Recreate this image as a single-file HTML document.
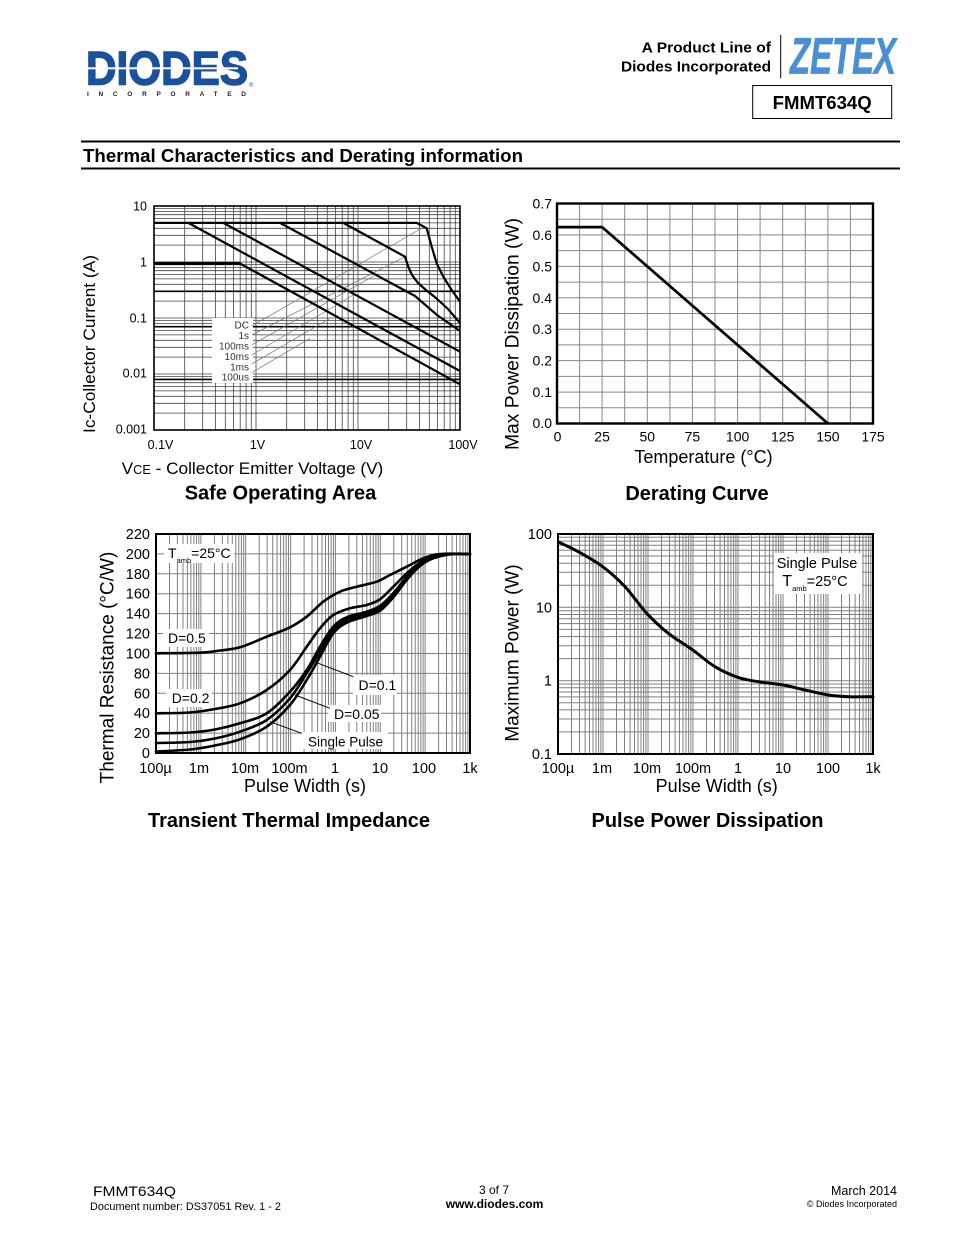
<!DOCTYPE html>
<html><head><meta charset="utf-8"><style>
html,body{margin:0;padding:0;background:#fff;}
svg{display:block;}
text{font-family:"Liberation Sans",Arial,sans-serif;fill:#000;}
</style></head><body>
<svg id="pg" width="954" height="1235" viewBox="0 0 954 1235" xmlns="http://www.w3.org/2000/svg">
<rect width="954" height="1235" fill="#fff"/>

<!-- DIODES logo -->
<text x="86" y="84.5" font-size="47" font-weight="bold" style="fill:#1a519d" stroke="#1a519d" stroke-width="1.5" textLength="162" lengthAdjust="spacingAndGlyphs">DIODES</text>
<rect x="86" y="67.3" width="152" height="2" fill="#fff"/>
<text x="87" y="96" font-size="6.5" font-weight="bold" style="fill:#222" textLength="159" lengthAdjust="spacing">INCORPORATED</text>
<text x="249" y="87" font-size="6" style="fill:#1a519d">®</text>

<!-- ZETEX header -->
<text x="641.7" y="52.3" font-size="15" font-weight="bold" textLength="129.3" lengthAdjust="spacingAndGlyphs">A Product Line of</text>
<text x="621" y="71.7" font-size="15" font-weight="bold" textLength="150" lengthAdjust="spacingAndGlyphs">Diodes Incorporated</text>
<line x1="780.7" y1="35" x2="780.7" y2="78.3" stroke="#000" stroke-width="1"/>
<text x="790" y="73.3" font-size="51" font-weight="bold" font-style="italic" style="fill:#4a8fd6" stroke="#4a8fd6" stroke-width="0.8" textLength="106" lengthAdjust="spacingAndGlyphs">ZETEX</text>
<rect x="752.7" y="85.5" width="139" height="33" fill="none" stroke="#000" stroke-width="1"/>
<text x="772.7" y="109" font-size="18" font-weight="bold" textLength="99" lengthAdjust="spacingAndGlyphs">FMMT634Q</text>

<!-- Section title -->
<rect x="81" y="140.5" width="819" height="2" fill="#000"/>
<text x="83" y="162" font-size="18" font-weight="bold" textLength="440" lengthAdjust="spacingAndGlyphs">Thermal Characteristics and Derating information</text>
<rect x="81" y="167.5" width="819" height="2" fill="#000"/>

<!-- ================= SOA ================= -->
<g stroke="#444" stroke-width="0.8" fill="none">
<path d="M184.7 206V430M202.7 206V430M215.4 206V430M225.3 206V430M233.4 206V430M240.2 206V430M246.1 206V430M251.3 206V430M256 206V430M286.7 206V430M304.7 206V430M317.4 206V430M327.3 206V430M335.4 206V430M342.2 206V430M348.1 206V430M353.3 206V430M358 206V430M388.7 206V430M406.7 206V430M419.4 206V430M429.3 206V430M437.4 206V430M444.2 206V430M450.1 206V430M455.3 206V430"/>
<path d="M154 208.6H460M154 211.4H460M154 214.7H460M154 218.4H460M154 222.9H460M154 228.3H460M154 235.3H460M154 245.1H460M154 262H460M154 264.6H460M154 267.4H460M154 270.7H460M154 274.4H460M154 278.9H460M154 284.3H460M154 301.1H460M154 318H460M154 320.6H460M154 323.4H460M154 330.4H460M154 334.9H460M154 340.3H460M154 347.3H460M154 357.1H460M154 374H460M154 376.6H460M154 382.7H460M154 386.4H460M154 390.9H460M154 396.3H460M154 403.3H460M154 413.1H460"/>
</g>
<g stroke="#000" stroke-width="1.6" fill="none">
<path d="M154 291.3H460M154 326.7H460M154 379.4H460"/>
</g>
<rect x="212" y="318" width="41" height="65" fill="#fff"/>
<g stroke="#777" stroke-width="0.7" fill="none">
<path d="M251.7 326L423.3 227.3M251.7 335L405 256.7M251.7 345L378.3 273.3M251.7 355L353.3 295M251.7 364L330 318.3M251.7 372.7L310 338.3"/>
</g>
<g font-size="10" text-anchor="end">
<text x="249" y="328.5" style="fill:#333">DC</text>
<text x="249" y="338.8" style="fill:#333">1s</text>
<text x="249" y="349.3" style="fill:#333">100ms</text>
<text x="249" y="359.8" style="fill:#333">10ms</text>
<text x="249" y="370.3" style="fill:#333">1ms</text>
<text x="249" y="380.5" style="fill:#333">100us</text>
</g>
<g stroke="#000" stroke-width="2.2" fill="none" stroke-linejoin="round">
<path d="M154 222.9H416.7L426.7 228.3L431.7 246.7L436.7 263.3L443.3 276.7L451.7 290L460 301.7"/>
<path d="M343.3 222.9L405 256.7L408 266L412 275L418 283L426 290L436 298L448 309L460 323"/>
<path d="M280 222.9L415 296L437 315L460 331"/>
<path d="M223.3 222.9L460 351.7"/>
<path d="M188.3 222.9L460 371"/>
<path d="M240 263.5L460 384.3"/>
</g>
<path d="M154 263.5H240" stroke="#000" stroke-width="3.2"/>
<rect x="154" y="206" width="306" height="224" fill="none" stroke="#000" stroke-width="1.6"/>
<g font-size="12.5" text-anchor="end">
<text x="147" y="210.5">10</text>
<text x="147" y="266.5">1</text>
<text x="147" y="322.5">0.1</text>
<text x="147" y="377.5">0.01</text>
<text x="147" y="433.5">0.001</text>
</g>
<g font-size="12.5" text-anchor="middle">
<text x="160.5" y="449">0.1V</text>
<text x="257.5" y="449">1V</text>
<text x="361" y="449">10V</text>
<text x="463" y="449">100V</text>
</g>
<text transform="translate(95,344) rotate(-90)" font-size="17" text-anchor="middle" textLength="178" lengthAdjust="spacingAndGlyphs">Ic-Collector Current (A)</text>
<text x="121.7" y="474" font-size="17" textLength="261.6" lengthAdjust="spacingAndGlyphs">V<tspan font-size="12.5">CE</tspan> - Collector Emitter Voltage (V)</text>
<text x="280.5" y="499.5" font-size="20" font-weight="bold" text-anchor="middle">Safe Operating Area</text>

<!-- ================= Derating ================= -->
<g stroke="#888" stroke-width="1" fill="none">
<path d="M579.6 203.5V423.5M602.1 203.5V423.5M624.7 203.5V423.5M647.3 203.5V423.5M669.9 203.5V423.5M692.4 203.5V423.5M715 203.5V423.5M737.6 203.5V423.5M760.1 203.5V423.5M782.7 203.5V423.5M805.3 203.5V423.5M827.9 203.5V423.5M850.4 203.5V423.5"/>
<path d="M557 219.2H873M557 234.9H873M557 250.6H873M557 266.4H873M557 282.1H873M557 297.8H873M557 313.5H873M557 329.2H873M557 344.9H873M557 360.6H873M557 376.4H873M557 392.1H873M557 407.8H873"/>
</g>
<path d="M557 227.1H602.1L827.9 423.5" stroke="#000" stroke-width="2.7" fill="none" stroke-linejoin="round"/>
<rect x="557" y="203.5" width="316" height="220" fill="none" stroke="#000" stroke-width="2.4"/>
<g font-size="14" text-anchor="end">
<text x="552" y="208.5">0.7</text>
<text x="552" y="239.9">0.6</text>
<text x="552" y="271.4">0.5</text>
<text x="552" y="302.8">0.4</text>
<text x="552" y="334.2">0.3</text>
<text x="552" y="365.6">0.2</text>
<text x="552" y="397.1">0.1</text>
<text x="552" y="428">0.0</text>
</g>
<g font-size="14" text-anchor="middle">
<text x="557.5" y="441.5">0</text>
<text x="602.1" y="441.5">25</text>
<text x="647.3" y="441.5">50</text>
<text x="692.4" y="441.5">75</text>
<text x="737.6" y="441.5">100</text>
<text x="782.7" y="441.5">125</text>
<text x="827.9" y="441.5">150</text>
<text x="873" y="441.5">175</text>
</g>
<text x="703.5" y="463" font-size="18" text-anchor="middle">Temperature (°C)</text>
<text transform="translate(518.5,334) rotate(-90)" font-size="19" text-anchor="middle" textLength="232" lengthAdjust="spacingAndGlyphs">Max Power Dissipation (W)</text>
<text x="697" y="500" font-size="20" font-weight="bold" text-anchor="middle">Derating Curve</text>

<!-- ================= Transient ================= -->
<g stroke="#808080" stroke-width="1" fill="none">
<path d="M169.5 534V753M177.4 534V753M183 534V753M187.4 534V753M190.9 534V753M193.9 534V753M196.5 534V753M198.8 534V753M200.9 534V753M214.4 534V753M222.3 534V753M227.9 534V753M232.3 534V753M235.8 534V753M238.8 534V753M241.4 534V753M243.7 534V753M245.7 534V753M259.2 534V753M267.1 534V753M272.7 534V753M277.1 534V753M280.6 534V753M283.6 534V753M286.2 534V753M288.5 534V753M290.6 534V753M304.1 534V753M312 534V753M317.6 534V753M322 534V753M325.5 534V753M328.5 534V753M331.1 534V753M333.4 534V753M335.4 534V753M348.9 534V753M356.8 534V753M362.4 534V753M366.8 534V753M370.3 534V753M373.3 534V753M375.9 534V753M378.2 534V753M380.3 534V753M393.8 534V753M401.7 534V753M407.3 534V753M411.7 534V753M415.2 534V753M418.2 534V753M420.8 534V753M423.1 534V753M425.1 534V753M438.6 534V753M446.5 534V753M452.1 534V753M456.5 534V753M460 534V753M463 534V753M465.6 534V753M467.9 534V753"/>
<path d="M156 553.9H470M156 573.8H470M156 593.7H470M156 613.6H470M156 633.5H470M156 653.5H470M156 673.4H470M156 693.3H470M156 713.2H470M156 733.1H470"/>
</g>
<g fill="#fff">
<rect x="164" y="544" width="70" height="19"/>
<rect x="163" y="629" width="46" height="18"/>
<rect x="166" y="689" width="46" height="18"/>
<rect x="353" y="675" width="44" height="20"/>
<rect x="328" y="705" width="53" height="17"/>
<rect x="302" y="732" width="86" height="17"/>
</g>
<g stroke="#000" stroke-width="2.6" fill="none" stroke-linejoin="round" stroke-linecap="round">
<polyline class="sm" points="156,653.3 200,652.7 220,650.5 240,647.3 266.7,636.7 290,627.3 306.7,616.7 323.3,601.7 340,591.7 356.7,586.7 376.7,581.7 390,575 406.7,566.7 423.3,558.3 440,554 470,554"/>
<polyline class="sm" points="156,713.3 190,712.5 215,709 240,703.3 266.7,690 290,670 306.7,646.7 320,628.3 333.3,615 350,608.3 366.7,605 380,599.3 393.3,586.7 406.7,573.3 420,562.7 433.3,556 446.7,554 470,554"/>
<polyline class="sm" points="156,733.3 190,732.5 215,729.5 240,723.3 266.7,713.3 290,691.7 306.7,670 320,646.7 333.3,626.7 346.7,617.3 366.7,611.7 380,606 393.3,593.3 406.7,576.7 420,564 433.3,556.7 446.7,554 470,554"/>
<polyline class="sm" points="156,743 190,742 215,738.5 240,731.7 266.7,720 290,698.3 306.7,673.3 320,651.7 333.3,630 346.7,620 366.7,614 380,608.3 393.3,595 406.7,578.3 420,565 433.3,557.3 450,554 470,554"/>
<polyline class="sm" points="156,751.5 190,749.5 215,745.5 240,739.3 266.7,726.7 290,705 306.7,680 320,656.7 333.3,633.3 346.7,622.7 366.7,616 380,610.7 393.3,597.3 406.7,580 420,566 433.3,558.3 453.3,554 470,554"/>
</g>
<g stroke="#000" stroke-width="1" fill="none">
<path d="M316.7 662.7L353.3 676.7M295 695L330 708.3M270 721.7L301.7 733.3"/>
</g>
<rect x="156" y="534" width="314" height="219" fill="none" stroke="#000" stroke-width="2"/>
<g font-size="14">
<text x="168" y="558">T<tspan font-size="7.5" dy="5">amb</tspan><tspan dy="-5">=25°C</tspan></text>
<text x="168" y="643">D=0.5</text>
<text x="171.7" y="703">D=0.2</text>
<text x="358.5" y="690">D=0.1</text>
<text x="334" y="719">D=0.05</text>
<text x="308" y="746.5" textLength="75" lengthAdjust="spacingAndGlyphs">Single Pulse</text>
</g>
<g font-size="14.5" text-anchor="end">
<text x="150" y="539">220</text>
<text x="150" y="559">200</text>
<text x="150" y="578.8">180</text>
<text x="150" y="598.7">160</text>
<text x="150" y="618.6">140</text>
<text x="150" y="638.5">120</text>
<text x="150" y="658.5">100</text>
<text x="150" y="678.4">80</text>
<text x="150" y="698.3">60</text>
<text x="150" y="718.2">40</text>
<text x="150" y="738.1">20</text>
<text x="150" y="758">0</text>
</g>
<g font-size="14.5" text-anchor="middle">
<text x="155.5" y="773">100µ</text>
<text x="199" y="773">1m</text>
<text x="245" y="773">10m</text>
<text x="289.5" y="773">100m</text>
<text x="335" y="773">1</text>
<text x="380" y="773">10</text>
<text x="424" y="773">100</text>
<text x="470" y="773">1k</text>
</g>
<text x="305" y="792" font-size="18" text-anchor="middle">Pulse Width (s)</text>
<text transform="translate(113.5,667.5) rotate(-90)" font-size="19" text-anchor="middle" textLength="231.7" lengthAdjust="spacingAndGlyphs">Thermal Resistance (°C/W)</text>
<text x="289" y="827" font-size="20" font-weight="bold" text-anchor="middle" textLength="282" lengthAdjust="spacingAndGlyphs">Transient Thermal Impedance</text>

<!-- ================= Pulse Power ================= -->
<g stroke="#808080" stroke-width="1" fill="none">
<path d="M571.5 534V754M579.5 534V754M585.1 534V754M589.5 534V754M593 534V754M596 534V754M598.6 534V754M600.9 534V754M603 534V754M616.5 534V754M624.5 534V754M630.1 534V754M634.5 534V754M638 534V754M641 534V754M643.6 534V754M645.9 534V754M648 534V754M661.5 534V754M669.5 534V754M675.1 534V754M679.5 534V754M683 534V754M686 534V754M688.6 534V754M690.9 534V754M693 534V754M706.5 534V754M714.5 534V754M720.1 534V754M724.5 534V754M728 534V754M731 534V754M733.6 534V754M735.9 534V754M738 534V754M751.5 534V754M759.5 534V754M765.1 534V754M769.5 534V754M773 534V754M776 534V754M778.6 534V754M780.9 534V754M783 534V754M796.5 534V754M804.5 534V754M810.1 534V754M814.5 534V754M818 534V754M821 534V754M823.6 534V754M825.9 534V754M828 534V754M841.5 534V754M849.5 534V754M855.1 534V754M859.5 534V754M863 534V754M866 534V754M868.6 534V754M870.9 534V754"/>
<path d="M558 537.3H873M558 541.1H873M558 545.3H873M558 550.2H873M558 556H873M558 563.2H873M558 572.3H873M558 585.2H873M558 607.3H873M558 610.7H873M558 614.5H873M558 618.7H873M558 623.6H873M558 629.4H873M558 636.6H873M558 645.7H873M558 658.6H873M558 680.7H873M558 684H873M558 687.8H873M558 692H873M558 696.9H873M558 702.7H873M558 709.9H873M558 719H873M558 731.9H873"/>
</g>
<rect x="774" y="553" width="88" height="41" fill="#fff"/>
<polyline class="sm" points="558.3,542 578.3,551.7 602.7,566.7 625,586.7 646.7,613.3 668.3,633.3 692.7,650 715,666.7 737.7,677.3 758.3,681.7 783.3,685 805,690 828.3,695 848.3,696.7 873,696.7" stroke="#000" stroke-width="3" fill="none" stroke-linejoin="round" stroke-linecap="round"/>
<rect x="558" y="534" width="315" height="220" fill="none" stroke="#000" stroke-width="2"/>
<text x="817" y="568" font-size="14.5" text-anchor="middle">Single Pulse</text>
<text x="782.3" y="586">T<tspan font-size="7.5" dy="5">amb</tspan><tspan dy="-5" font-size="14.5">=25°C</tspan></text>
<g font-size="14.5" text-anchor="end">
<text x="552" y="539">100</text>
<text x="552" y="612.3">10</text>
<text x="552" y="685.7">1</text>
<text x="552" y="759">0.1</text>
</g>
<g font-size="14.5" text-anchor="middle">
<text x="558" y="773">100µ</text>
<text x="602" y="773">1m</text>
<text x="647" y="773">10m</text>
<text x="693" y="773">100m</text>
<text x="738" y="773">1</text>
<text x="783" y="773">10</text>
<text x="828" y="773">100</text>
<text x="873" y="773">1k</text>
</g>
<text x="716.7" y="792" font-size="18" text-anchor="middle">Pulse Width (s)</text>
<text transform="translate(518.5,653) rotate(-90)" font-size="19" text-anchor="middle">Maximum Power (W)</text>
<text x="707.5" y="827" font-size="20" font-weight="bold" text-anchor="middle" textLength="232" lengthAdjust="spacingAndGlyphs">Pulse Power Dissipation</text>

<!-- ================= Footer ================= -->
<text x="93" y="1196" font-size="14" textLength="83" lengthAdjust="spacingAndGlyphs">FMMT634Q</text>
<text x="90" y="1210" font-size="11" textLength="191" lengthAdjust="spacingAndGlyphs">Document number: DS37051 Rev. 1 - 2</text>
<text x="494" y="1194" font-size="12" text-anchor="middle">3 of 7</text>
<text x="494.5" y="1208" font-size="12" font-weight="bold" text-anchor="middle">www.diodes.com</text>
<text x="897" y="1195" font-size="12.5" text-anchor="end">March 2014</text>
<text x="897" y="1207" font-size="9" text-anchor="end">© Diodes Incorporated</text>
</svg>
<script>
(function(){
  try{
    var NS="http://www.w3.org/2000/svg";
    var pls=document.querySelectorAll("polyline.sm");
    for(var k=0;k<pls.length;k++){
      var pl=pls[k];
      var raw=pl.getAttribute("points").trim().split(/\s+/);
      var P=[];
      for(var i=0;i<raw.length;i++){var a=raw[i].split(",");P.push([parseFloat(a[0]),parseFloat(a[1])]);}
      var d="M"+P[0][0]+" "+P[0][1];
      for(var i=0;i<P.length-1;i++){
        var p0=P[i>0?i-1:i],p1=P[i],p2=P[i+1],p3=P[i+2<P.length?i+2:i+1];
        var c1x=p1[0]+(p2[0]-p0[0])/6,c1y=p1[1]+(p2[1]-p0[1])/6;
        var c2x=p2[0]-(p3[0]-p1[0])/6,c2y=p2[1]-(p3[1]-p1[1])/6;
        d+="C"+c1x.toFixed(2)+" "+c1y.toFixed(2)+" "+c2x.toFixed(2)+" "+c2y.toFixed(2)+" "+p2[0]+" "+p2[1];
      }
      var path=document.createElementNS(NS,"path");
      path.setAttribute("d",d);
      var sw=pl.getAttribute("stroke-width");
      path.setAttribute("fill","none");
      path.setAttribute("stroke","#000");
      path.setAttribute("stroke-linejoin","round");
      path.setAttribute("stroke-linecap","round");
      if(sw)path.setAttribute("stroke-width",sw);
      pl.parentNode.replaceChild(path,pl);
    }
  }catch(e){}
})();
</script>
</body></html>
